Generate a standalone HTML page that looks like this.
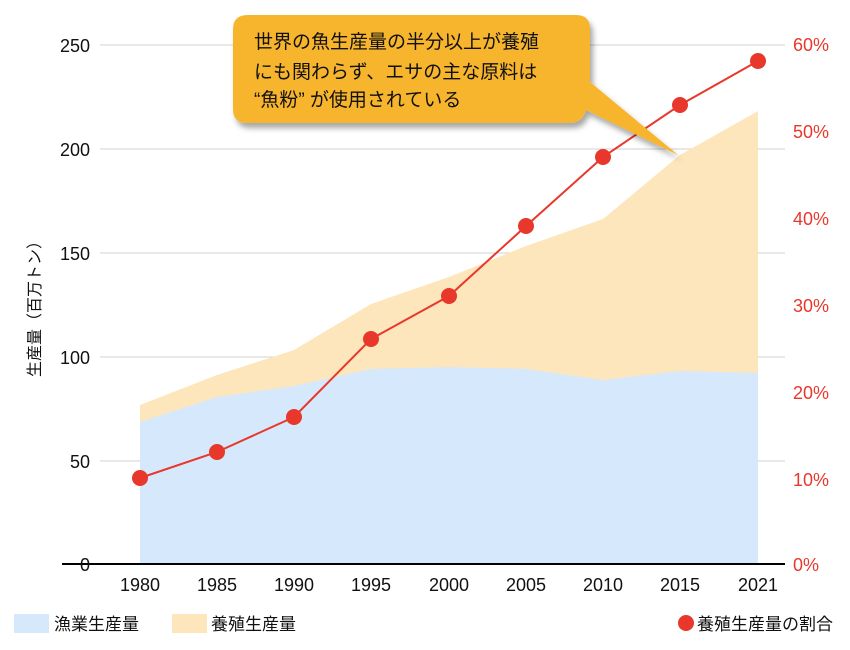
<!DOCTYPE html>
<html><head><meta charset="utf-8"><style>
body{margin:0;background:#fff;}
svg{display:block;font-family:"Liberation Sans","Noto Sans CJK JP",sans-serif;}
</style></head><body>
<svg width="850" height="650" viewBox="0 0 850 650">
<defs><filter id="sh" x="-10%" y="-10%" width="130%" height="140%"><feDropShadow dx="3" dy="5" stdDeviation="3" flood-color="#000" flood-opacity="0.35"/></filter></defs>
<g stroke="#d0d0d0" stroke-width="1">
<line x1="100" x2="785" y1="45" y2="45"/><line x1="100" x2="785" y1="149" y2="149"/>
<line x1="100" x2="785" y1="253" y2="253"/><line x1="100" x2="785" y1="357" y2="357"/>
<line x1="100" x2="785" y1="461" y2="461"/>
</g>
<polygon fill="#fde6bb" points="140,405 217,375 294,350 371,304 449,277 526,246 603,219 680,155 758,111 758,564 140,564"/>
<polygon fill="#d6e8fc" points="140,422 217,397 294,386 371,369 449,367 526,369 603,380 680,371 758,373 758,564 140,564"/>
<line x1="62" x2="785" y1="564" y2="564" stroke="#000" stroke-width="2"/>
<g font-size="18" fill="#111" text-anchor="end">
<text x="90" y="52">250</text><text x="90" y="156">200</text><text x="90" y="260">150</text>
<text x="90" y="364">100</text><text x="90" y="468">50</text><text x="90" y="571">0</text>
</g>
<g font-size="18" fill="#e8382b">
<text x="793" y="51">60%</text><text x="793" y="138">50%</text><text x="793" y="225">40%</text>
<text x="793" y="312">30%</text><text x="793" y="399">20%</text><text x="793" y="486">10%</text><text x="793" y="571">0%</text>
</g>
<g font-size="18" fill="#111" text-anchor="middle">
<text x="140" y="591">1980</text><text x="217" y="591">1985</text><text x="294" y="591">1990</text>
<text x="371" y="591">1995</text><text x="449" y="591">2000</text><text x="526" y="591">2005</text>
<text x="603" y="591">2010</text><text x="680" y="591">2015</text><text x="758" y="591">2021</text>
</g>
<text transform="translate(40,305) rotate(-90)" font-size="16" fill="#111" text-anchor="middle">生産量（百万トン）</text>
<polyline fill="none" stroke="#e8382b" stroke-width="2" points="140,478 217,452 294,417 371,339 449,296 526,226 603,157 680,105 758,61"/>
<g fill="#e8382b">
<circle cx="140" cy="478" r="8"/><circle cx="217" cy="452" r="8"/><circle cx="294" cy="417" r="8"/>
<circle cx="371" cy="339" r="8"/><circle cx="449" cy="296" r="8"/><circle cx="526" cy="226" r="8"/>
<circle cx="603" cy="157" r="8"/><circle cx="680" cy="105" r="8"/><circle cx="758" cy="61" r="8"/>
</g>
<g filter="url(#sh)">
<path fill="#f7b52e" d="M248,15 H576 Q590,15 590,29 V82 L678,155 L586,110 Q582,123 570,123 H247 Q233,123 233,109 V29 Q233,15 248,15 Z"/>
</g>
<g font-size="19" fill="#111">
<text x="254" y="48">世界の魚生産量の半分以上が養殖</text>
<text x="254" y="78">にも関わらず、エサの主な原料は</text>
<text x="254" y="106">“魚粉” が使用されている</text>
</g>
<rect x="14" y="614" width="35" height="19" fill="#d6e8fc"/>
<rect x="172" y="614" width="35" height="19" fill="#fde6bb"/>
<circle cx="686" cy="623" r="8" fill="#e8382b"/>
<g font-size="17" fill="#111">
<text x="54" y="630">漁業生産量</text><text x="211" y="630">養殖生産量</text><text x="697" y="630">養殖生産量の割合</text>
</g>
</svg>
</body></html>
